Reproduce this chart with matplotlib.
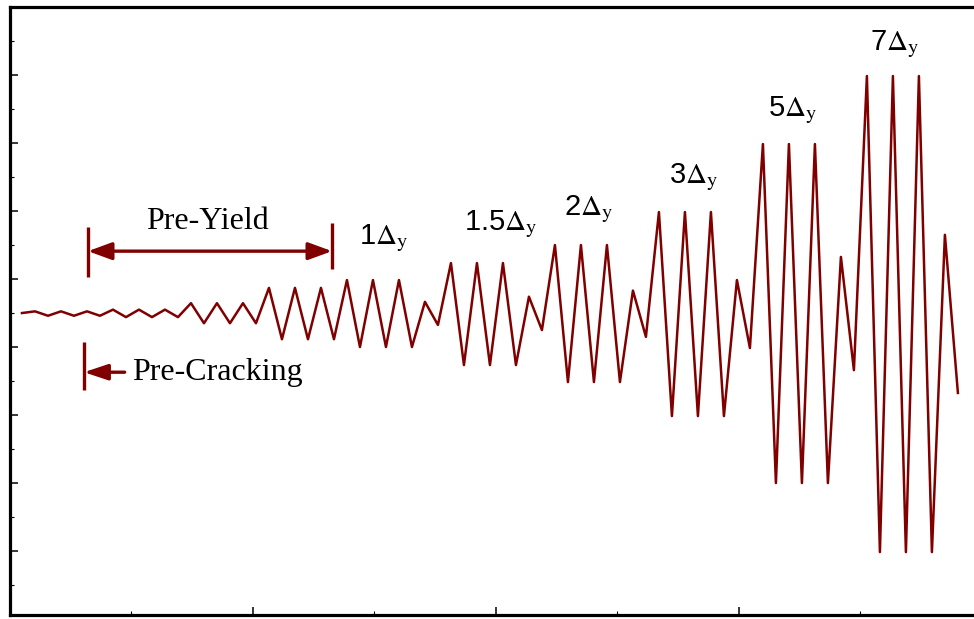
import numpy as np
import matplotlib
matplotlib.use("Agg")
import matplotlib.pyplot as plt
from matplotlib.ticker import FixedLocator

plt.rcParams["mathtext.fontset"] = "stix"

line_col = "#800000"

# cycle amplitudes in units of the yield displacement (Delta_y)
pre_up = [0.05, 0.10, 0.29, 0.74]
pre_down = [-0.08, -0.12, -0.30, -0.77]

drift_labels = ["1", "1.5", "2", "3", "5", "7"]
drift_up = [0.97, 1.47, 2.00, 2.97, 4.97, 6.97]
drift_down = [-1.00, -1.53, -2.03, -3.03, -5.00, -7.03]

# small cycle after each drift level
small_up = [0.33, 0.48, 0.66, 0.97, 1.65, 2.30]
small_down = [-0.35, -0.50, -0.70, -1.03, -1.68, -2.35]

cycles_per_level = 3


def build_history():
    disp = [0.0]
    for up, down in zip(pre_up, pre_down):
        disp += [up, down] * cycles_per_level
    for up, down, s_up, s_down in zip(drift_up, drift_down, small_up, small_down):
        disp += [up, down] * cycles_per_level
        disp += [s_up, s_down]
    return np.array(disp)


disp = build_history()
step = np.arange(len(disp))

fig = plt.figure(figsize=(9.74, 6.19), dpi=100)
ax = fig.add_axes([9.5 / 974, 4 / 619, 990 / 974, 608 / 619])

ax.plot(step, disp, color=line_col, linewidth=1.8)

ax.set_xlim(-0.96, 75.2)
ax.set_ylim(-8.88, 9.0)

# ticks (no labels)
x0, dx = -0.923, 18.69
ax.xaxis.set_major_locator(FixedLocator([x0 + i * dx for i in range(5)]))
ax.xaxis.set_minor_locator(FixedLocator([x0 + (i + 0.5) * dx for i in range(5)]))
ax.yaxis.set_major_locator(FixedLocator([-7, -5, -3, -1, 1, 3, 5, 7]))
ax.yaxis.set_minor_locator(FixedLocator([-8, -6, -4, -2, 0, 2, 4, 6, 8]))
ax.tick_params(which="both", direction="in", labelbottom=False, labelleft=False,
               top=False, right=False, color="black")
ax.tick_params(which="major", length=6, width=1.1)
ax.tick_params(which="minor", length=3, width=0.8)

for side in ["left", "bottom", "top"]:
    ax.spines[side].set_linewidth(2.3)
    ax.spines[side].set_color("black")
ax.spines["right"].set_visible(False)

# drift level labels
label_pos = [(27.8, 2.2), (36.8, 2.6), (43.6, 3.05), (51.7, 4.0), (59.3, 5.97), (67.1, 7.9)]
for lab, (lx, ly) in zip(drift_labels, label_pos):
    ax.text(lx, ly, lab + r"$\Delta_{\rm y}$", fontsize=21, family="Liberation Sans",
            ha="center", va="center", color="black")

# Pre-Yield dimension arrow
arr_kw = dict(color=line_col, linewidth=2.4, shrinkA=0, shrinkB=0,
              mutation_scale=24)
ax.annotate("", xy=(5.08, 1.82), xytext=(23.85, 1.82),
            arrowprops=dict(arrowstyle="<|-|>,head_length=0.6,head_width=0.22", **arr_kw))
ax.plot([5.08, 5.08], [1.06, 2.53], color=line_col, linewidth=2.4, solid_capstyle="butt")
ax.plot([23.85, 23.85], [1.29, 2.65], color=line_col, linewidth=2.4, solid_capstyle="butt")
ax.text(14.3, 2.47, "Pre-Yield", fontsize=23, family="Liberation Serif",
        ha="center", va="baseline")

# Pre-Cracking arrow
ax.annotate("", xy=(4.77, -1.74), xytext=(7.9, -1.74),
            arrowprops=dict(arrowstyle="-|>,head_length=0.6,head_width=0.2", **arr_kw))
ax.plot([4.77, 4.77], [-0.85, -2.26], color=line_col, linewidth=2.4, solid_capstyle="butt")
ax.text(8.5, -1.74, "Pre-Cracking", fontsize=23, family="Liberation Serif",
        ha="left", va="center")

fig.savefig("out.png", dpi=100)
